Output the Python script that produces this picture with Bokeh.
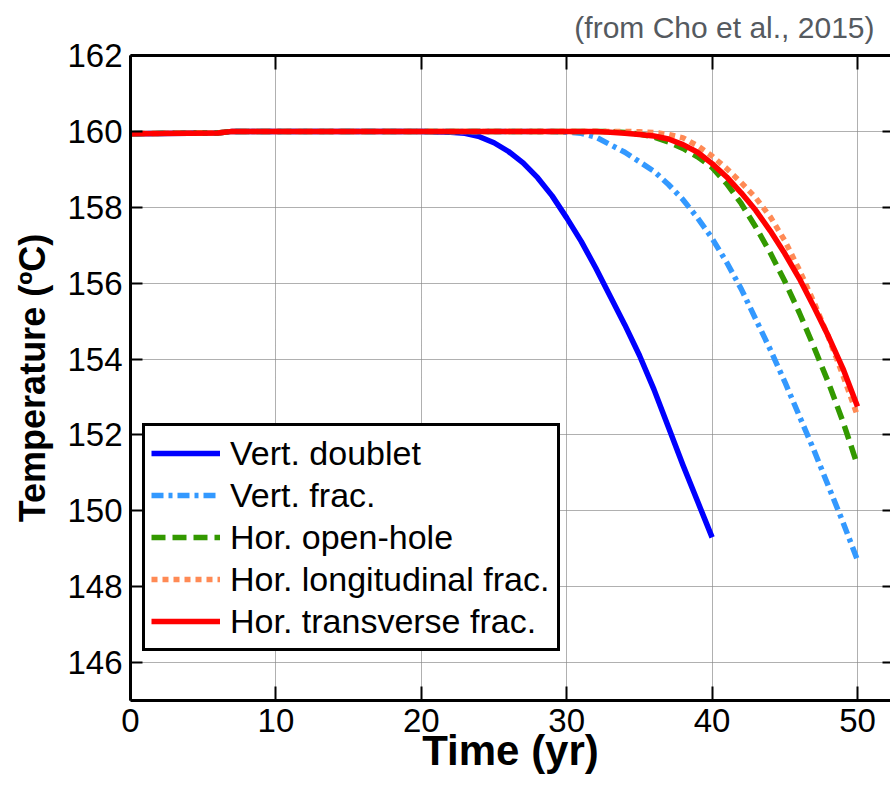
from bokeh.plotting import figure
from bokeh.models import (LinearAxis, FixedTicker, Legend, LegendItem,
                          Range1d, Grid, Title, CustomJSTickFormatter)
from bokeh.embed import file_html
from bokeh.resources import INLINE

FONT = "Liberation Sans"

# ---- data ----
x_ticks = [0, 10, 20, 30, 40, 50]
y_ticks = [146, 148, 150, 152, 154, 156, 158, 160, 162]

t_doublet = [0, 6, 7, 20, 22, 23, 24, 25, 26, 27, 28, 29, 30, 31, 32, 33, 34, 35,
             36, 37, 38, 39, 40]
T_doublet = [159.94, 159.96, 160.0, 160.0, 159.98, 159.95, 159.86, 159.7, 159.47,
             159.17, 158.78, 158.3, 157.72, 157.1, 156.4, 155.65, 154.9, 154.1,
             153.2, 152.2, 151.2, 150.25, 149.3]

t_vfrac = [0, 6, 7, 29, 30, 31, 32, 33, 34, 35, 36, 37, 38, 39, 40, 41, 42, 43,
           44, 45, 46, 47, 48, 49, 50]
T_vfrac = [159.94, 159.96, 160.0, 160.0, 159.98, 159.95, 159.85, 159.65, 159.45,
           159.2, 158.95, 158.6, 158.2, 157.72, 157.18, 156.55, 155.85, 155.05,
           154.25, 153.4, 152.5, 151.6, 150.65, 149.7, 148.7]

t_open = [0, 6, 7, 33, 34, 35, 36, 37, 38, 39, 40, 41, 42, 43, 44, 45, 46, 47,
          48, 49, 50]
T_open = [159.94, 159.96, 160.0, 160.0, 159.97, 159.93, 159.85, 159.72, 159.55,
          159.33, 159.05, 158.62, 158.1, 157.48, 156.8, 156.05, 155.22, 154.32,
          153.38, 152.35, 151.2]

t_long = [0, 6, 7, 34, 35, 36, 37, 38, 39, 40, 41, 42, 43, 44, 45, 46, 47, 48,
          49, 50]
T_long = [159.94, 159.96, 160.0, 160.0, 159.99, 159.97, 159.92, 159.83, 159.62,
          159.35, 159.02, 158.65, 158.25, 157.75, 157.12, 156.35, 155.5, 154.58,
          153.57, 152.5]

t_trans = [0, 6, 7, 32, 33, 34, 35, 36, 37, 38, 39, 40, 41, 42, 43, 44, 45, 46,
           47, 48, 49, 50]
T_trans = [159.94, 159.96, 160.0, 160.0, 159.98, 159.95, 159.92, 159.88, 159.8,
           159.65, 159.45, 159.15, 158.8, 158.38, 157.92, 157.38, 156.78, 156.12,
           155.38, 154.6, 153.75, 152.75]

labels = ["Vert. doublet", "Vert. frac.", "Hor. open-hole",
          "Hor. longitudinal frac.", "Hor. transverse frac."]

# ---- figure ----
p = figure(frame_width=760, frame_height=645,
           x_range=Range1d(0, 52.27), y_range=Range1d(145, 162),
           output_backend="svg", toolbar_location=None,
           x_axis_location=None, y_axis_location=None,
           min_border_left=130, min_border_top=54, min_border_bottom=84,
           min_border_right=0)
p.outline_line_color = None
p.background_fill_color = "white"
p.border_fill_color = "white"

xt = FixedTicker(ticks=x_ticks)
yt = FixedTicker(ticks=y_ticks)

p.add_layout(Grid(dimension=0, ticker=xt, grid_line_color="#7a7a7a",
                  grid_line_dash="1 1", grid_line_width=1))
p.add_layout(Grid(dimension=1, ticker=yt, grid_line_color="#7a7a7a",
                  grid_line_dash="1 1", grid_line_width=1))

blank = CustomJSTickFormatter(code="return ''")


def style_axis(ax, tick_in, show_labels=True, line=True):
    ax.axis_line_width = 3
    ax.axis_line_color = "black" if line else None
    ax.major_tick_in = tick_in
    ax.major_tick_out = 0
    ax.major_tick_line_width = 2
    ax.major_tick_line_color = "black"
    ax.minor_tick_line_color = None
    ax.major_label_text_font = FONT
    ax.major_label_text_font_size = "33px"
    ax.major_label_text_color = "black"
    ax.axis_label_text_color = "black"
    if not show_labels:
        ax.formatter = blank
        ax.major_label_standoff = 0


xaxis = LinearAxis(ticker=xt, axis_label="Time (yr)")
style_axis(xaxis, 14)
xaxis.major_label_standoff = 8
xaxis.axis_label_text_font = FONT
xaxis.axis_label_text_font_size = "42px"
xaxis.axis_label_text_font_style = "bold"
xaxis.axis_label_standoff = -8
p.add_layout(xaxis, "below")

yaxis = LinearAxis(ticker=yt, axis_label="Temperature (ºC)")
style_axis(yaxis, 12)
yaxis.major_label_standoff = 8
yaxis.axis_label_text_font = FONT
yaxis.axis_label_text_font_size = "36px"
yaxis.axis_label_text_font_style = "bold"
yaxis.axis_label_standoff = 11
p.add_layout(yaxis, "left")

top = LinearAxis(ticker=xt)
style_axis(top, 14, show_labels=False)
p.add_layout(top, "above")

right = LinearAxis(ticker=yt)
style_axis(right, 8, show_labels=False, line=False)
p.add_layout(right, "right")

# ---- curves ----
r1 = p.line(t_doublet, T_doublet, line_color="#0000ff", line_width=5.5,
            line_join="round")
r2 = p.line(t_vfrac, T_vfrac, line_color="#3399ff", line_width=5.5,
            line_dash="12 5 4 5")
r3 = p.line(t_open, T_open, line_color="#339900", line_width=5.5,
            line_dash="14 7")
r4 = p.line(t_long, T_long, line_color="#ff8a55", line_width=5.5,
            line_dash="6 5")
r5 = p.line(t_trans, T_trans, line_color="#ff0000", line_width=5.5,
            line_join="round")

legend = Legend(items=[LegendItem(label=l, renderers=[r])
                       for l, r in zip(labels, [r1, r2, r3, r4, r5])],
                location=(12, 49))
legend.label_text_font = FONT
legend.label_text_font_size = "34px"
legend.label_text_color = "black"
legend.label_height = 42
legend.label_width = 321
legend.label_standoff = 10
legend.glyph_width = 69
legend.glyph_height = 20
legend.spacing = 0
legend.padding = 6
legend.margin = 0
legend.border_line_color = "black"
legend.border_line_alpha = 1.0
legend.border_line_width = 3
legend.background_fill_color = "white"
legend.background_fill_alpha = 1.0
p.add_layout(legend)

cite = Title(text="(from Cho et al., 2015)", align="right", offset=16,
             standoff=20, vertical_align="top", text_font=FONT,
             text_font_size="30px", text_font_style="normal",
             text_color="#555a5f")
p.add_layout(cite, "above")

open("out.html", "w").write(file_html(p, INLINE))
